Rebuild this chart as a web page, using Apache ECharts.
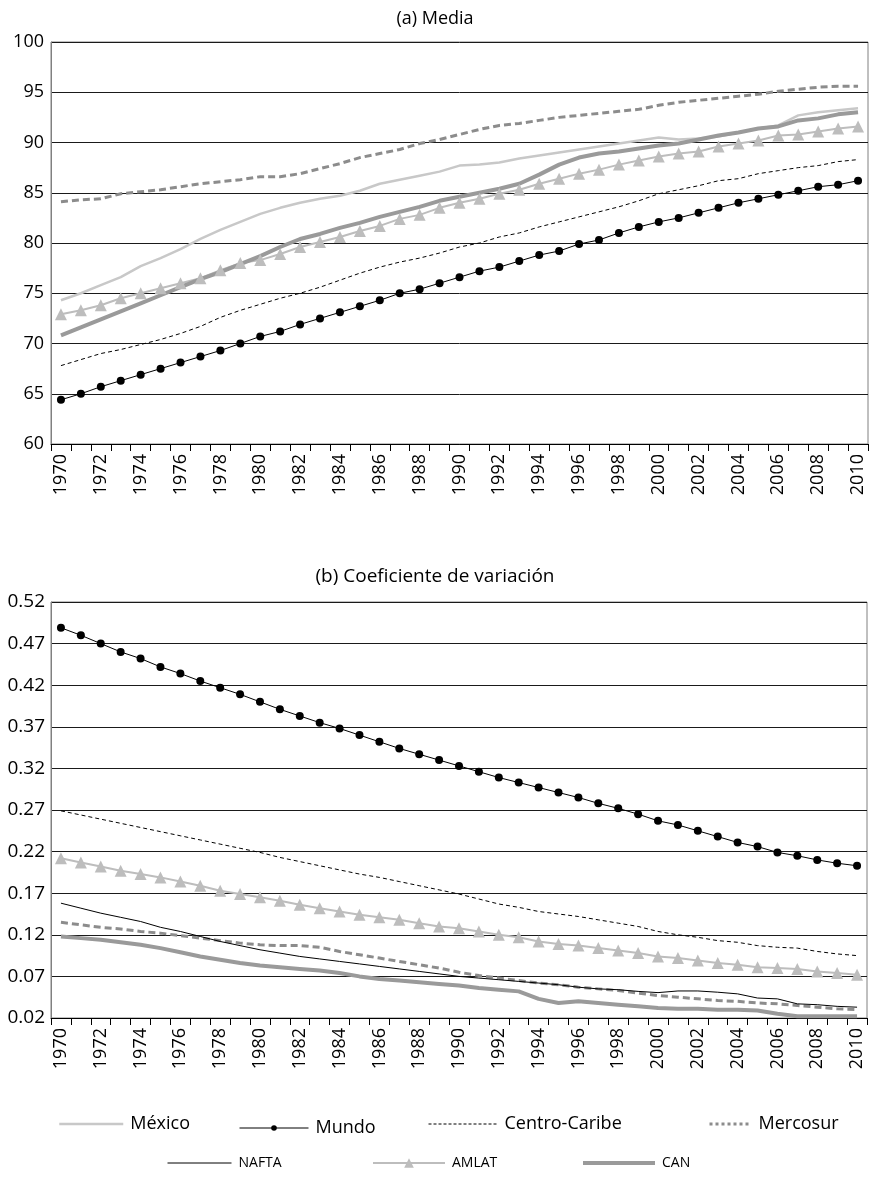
<!DOCTYPE html>
<html>
<head>
<meta charset="utf-8">
<script src="https://cdn.jsdelivr.net/npm/echarts@6/dist/echarts.min.js"></script>
<style>
html,body{margin:0;padding:0;background:#fff;}
#c{width:870px;height:1178px;}
</style>
</head>
<body>
<div id="c"></div>
<script>
const years = ['1970','1971','1972','1973','1974','1975','1976','1977','1978','1979','1980','1981','1982','1983','1984','1985','1986','1987','1988','1989','1990','1991','1992','1993','1994','1995','1996','1997','1998','1999','2000','2001','2002','2003','2004','2005','2006','2007','2008','2009','2010'];

// (a) Media
const mediaMexico = [74.3,75.0,75.8,76.6,77.7,78.5,79.4,80.4,81.3,82.1,82.9,83.5,84.0,84.4,84.7,85.2,85.9,86.3,86.7,87.1,87.7,87.8,88.0,88.4,88.7,89.0,89.3,89.6,89.9,90.2,90.5,90.3,90.4,90.6,91.0,91.4,91.7,92.7,93.0,93.2,93.4];
const mediaMundo = [64.4,65.0,65.7,66.3,66.9,67.5,68.1,68.7,69.3,70.0,70.7,71.2,71.9,72.5,73.1,73.7,74.3,75.0,75.4,76.0,76.6,77.2,77.6,78.2,78.8,79.2,79.9,80.3,81.0,81.6,82.1,82.5,83.0,83.5,84.0,84.4,84.8,85.2,85.6,85.8,86.2];
const mediaCentroCaribe = [67.8,68.4,69.0,69.4,69.9,70.4,71.0,71.7,72.6,73.3,73.9,74.5,75.0,75.6,76.3,77.0,77.6,78.1,78.5,79.0,79.6,80.0,80.6,81.0,81.6,82.1,82.6,83.1,83.6,84.2,84.9,85.3,85.7,86.2,86.4,86.9,87.2,87.5,87.7,88.1,88.3];
const mediaMercosur = [84.1,84.3,84.4,84.9,85.1,85.3,85.6,85.9,86.1,86.3,86.6,86.6,86.9,87.4,87.9,88.5,88.9,89.3,89.9,90.3,90.8,91.3,91.7,91.9,92.2,92.5,92.7,92.9,93.1,93.3,93.7,94.0,94.2,94.4,94.6,94.8,95.1,95.3,95.5,95.6,95.6];
const mediaAMLAT = [72.9,73.3,73.8,74.5,75.0,75.5,76.0,76.5,77.3,78.0,78.3,78.9,79.6,80.1,80.6,81.2,81.7,82.4,82.8,83.5,84.0,84.4,84.9,85.3,85.9,86.4,86.9,87.3,87.8,88.2,88.6,88.9,89.1,89.6,89.9,90.2,90.7,90.8,91.1,91.4,91.6];
const mediaCAN = [70.8,71.6,72.4,73.2,74.0,74.8,75.6,76.4,77.1,77.9,78.7,79.6,80.4,80.9,81.5,82.0,82.6,83.1,83.6,84.2,84.6,85.0,85.4,85.9,86.8,87.8,88.5,88.9,89.1,89.4,89.7,89.9,90.3,90.7,91.0,91.4,91.6,92.2,92.4,92.8,93.0];

// (b) Coeficiente de variación
const cvMundo = [0.489,0.480,0.470,0.460,0.452,0.442,0.434,0.425,0.417,0.409,0.400,0.391,0.383,0.375,0.368,0.360,0.352,0.344,0.337,0.330,0.323,0.316,0.309,0.303,0.297,0.291,0.285,0.278,0.272,0.265,0.257,0.252,0.245,0.238,0.231,0.226,0.219,0.215,0.210,0.206,0.203];
const cvCentroCaribe = [0.269,0.264,0.259,0.254,0.249,0.244,0.239,0.234,0.229,0.224,0.219,0.213,0.208,0.203,0.198,0.193,0.189,0.184,0.179,0.174,0.169,0.163,0.157,0.153,0.148,0.145,0.142,0.138,0.134,0.130,0.124,0.120,0.117,0.113,0.111,0.107,0.105,0.104,0.100,0.097,0.095];
const cvMercosur = [0.135,0.132,0.129,0.127,0.124,0.122,0.119,0.116,0.113,0.110,0.108,0.107,0.107,0.105,0.100,0.096,0.092,0.088,0.084,0.080,0.075,0.071,0.068,0.065,0.062,0.060,0.057,0.055,0.053,0.050,0.047,0.045,0.043,0.041,0.040,0.038,0.037,0.035,0.033,0.031,0.030];
const cvNAFTA = [0.158,0.152,0.146,0.141,0.136,0.129,0.124,0.118,0.112,0.107,0.102,0.098,0.094,0.091,0.088,0.085,0.082,0.079,0.076,0.073,0.070,0.068,0.066,0.064,0.062,0.060,0.057,0.055,0.054,0.052,0.0505,0.0525,0.0525,0.051,0.049,0.044,0.043,0.037,0.036,0.034,0.033];
const cvAMLAT = [0.212,0.207,0.202,0.197,0.193,0.189,0.184,0.179,0.173,0.169,0.165,0.161,0.156,0.152,0.148,0.144,0.141,0.138,0.134,0.130,0.128,0.124,0.120,0.117,0.112,0.109,0.107,0.104,0.101,0.098,0.094,0.092,0.089,0.086,0.084,0.081,0.080,0.079,0.076,0.074,0.072];
const cvCAN = [0.118,0.116,0.114,0.111,0.108,0.104,0.099,0.094,0.090,0.086,0.083,0.081,0.079,0.077,0.074,0.070,0.067,0.065,0.063,0.061,0.059,0.056,0.054,0.052,0.043,0.038,0.040,0.038,0.036,0.034,0.032,0.031,0.031,0.030,0.030,0.029,0.025,0.022,0.022,0.022,0.022];

const mediaTicks = {min:60, max:100, interval:5};
const cvTicks = {min:0.02, max:0.52, interval:0.05};

const FONT = 'Open Sans';
const chart = echarts.init(document.getElementById('c'), null, {renderer:'canvas'});

// bottom axis starts at 0.02: shift so ticks fall on 0.02, 0.07, ...
const off = cvTicks.min;
const shift = arr => arr.map(v => +(v - off).toFixed(5));

const styles = {
  'México':       {color:'#c8c8c8', width:2.5, type:'solid', symbol:'none'},
  'Mundo':        {color:'#000000', width:1,   type:'solid', symbol:'circle', size:8},
  'Centro-Caribe':{color:'#000000', width:1,   type:[4,3],   symbol:'none'},
  'Mercosur':     {color:'#8c8c8c', width:3,   type:[7,4],   symbol:'none'},
  'NAFTA':        {color:'#000000', width:1,   type:'solid', symbol:'none'},
  'AMLAT':        {color:'#bdbdbd', width:2,   type:'solid', symbol:'triangle', size:12},
  'CAN':          {color:'#9a9a9a', width:4,   type:'solid', symbol:'none'}
};

function mk(name, data, gi){
  const s = styles[name];
  return {
    name, type:'line', xAxisIndex:gi, yAxisIndex:gi, data,
    symbol:s.symbol, symbolSize:s.size||0, showSymbol:s.symbol!=='none',
    lineStyle:{color:s.color, width:s.width, type:s.type},
    itemStyle:{color:s.color, borderWidth:0},
    animation:false, silent:true,
    z: name==='Mundo' ? 5 : 3
  };
}

const xAxisBase = {
  type:'category', data:years, boundaryGap:true,
  axisLine:{show:true, lineStyle:{color:'#000', width:1}},
  axisTick:{show:true, interval:0, length:7, lineStyle:{color:'#000'}},
  axisLabel:{interval:1, rotate:90, fontFamily:FONT, fontSize:18, color:'#000', margin:10},
  splitLine:{show:false}
};

function legendItem(name, left, top, w, fs, symH){
  const s = styles[name];
  const hasSym = s.symbol !== 'none';
  const legType = name === 'Mercosur' ? [3,3] : (name === 'Centro-Caribe' ? [3,2] : s.type);
  return {
    data:[name], left, top, padding:0, itemWidth:w, itemHeight:symH||12, itemGap:0,
    selectedMode:false,
    itemStyle: hasSym ? {} : {opacity:0},
    lineStyle:{color:s.color, width:s.width, type:legType},
    textStyle:{fontFamily:FONT, fontSize:fs, color:'#000', padding:[0,0,0,2]}
  };
}

chart.setOption({
  backgroundColor:'#fff',
  animation:false,
  title:[
    {text:'(a) Media', left:'center', top:5, textStyle:{fontFamily:FONT, fontSize:18, fontWeight:'normal', color:'#000'}},
    {text:'(b) Coeficiente de variación', left:'center', top:562, textStyle:{fontFamily:FONT, fontSize:19, fontWeight:'normal', color:'#000'}}
  ],
  grid:[
    {left:51, right:2, top:42, height:402, show:true, borderColor:'#808080', borderWidth:1},
    {left:51, right:3, top:602, height:416, show:true, borderColor:'#808080', borderWidth:1}
  ],
  xAxis:[
    Object.assign({gridIndex:0}, xAxisBase),
    Object.assign({gridIndex:1}, xAxisBase)
  ],
  yAxis:[
    {type:'value', gridIndex:0, min:mediaTicks.min, max:mediaTicks.max, interval:mediaTicks.interval,
     axisLine:{show:true, lineStyle:{color:'#808080'}}, axisTick:{show:false},
     axisLabel:{fontFamily:FONT, fontSize:18, color:'#000', margin:7},
     splitLine:{show:true, lineStyle:{color:'#1a1a1a', width:1}}},
    {type:'value', gridIndex:1, min:0, max:+(cvTicks.max-off).toFixed(2), interval:cvTicks.interval,
     axisLine:{show:true, lineStyle:{color:'#808080'}}, axisTick:{show:false},
     axisLabel:{fontFamily:FONT, fontSize:19, color:'#000', margin:6,
       formatter:v => (v + off).toFixed(2)},
     splitLine:{show:true, lineStyle:{color:'#1a1a1a', width:1}}}
  ],
  legend:[
    legendItem('México', 58, 1115, 64, 18),
    legendItem('Mundo', 239, 1119, 69, 18, 7),
    legendItem('Centro-Caribe', 428, 1115, 69, 18),
    legendItem('Mercosur', 708, 1115, 42, 18),
    legendItem('NAFTA', 167, 1156, 64, 14),
    legendItem('AMLAT', 372, 1156, 72, 14),
    legendItem('CAN', 581, 1156, 72, 14)
  ],
  series:[
    mk('México', mediaMexico, 0),
    mk('Centro-Caribe', mediaCentroCaribe, 0),
    mk('Mercosur', mediaMercosur, 0),
    mk('AMLAT', mediaAMLAT, 0),
    mk('CAN', mediaCAN, 0),
    mk('Mundo', mediaMundo, 0),

    mk('Centro-Caribe', shift(cvCentroCaribe), 1),
    mk('Mercosur', shift(cvMercosur), 1),
    mk('NAFTA', shift(cvNAFTA), 1),
    mk('AMLAT', shift(cvAMLAT), 1),
    mk('CAN', shift(cvCAN), 1),
    mk('Mundo', shift(cvMundo), 1)
  ]
});
</script>
</body>
</html>
